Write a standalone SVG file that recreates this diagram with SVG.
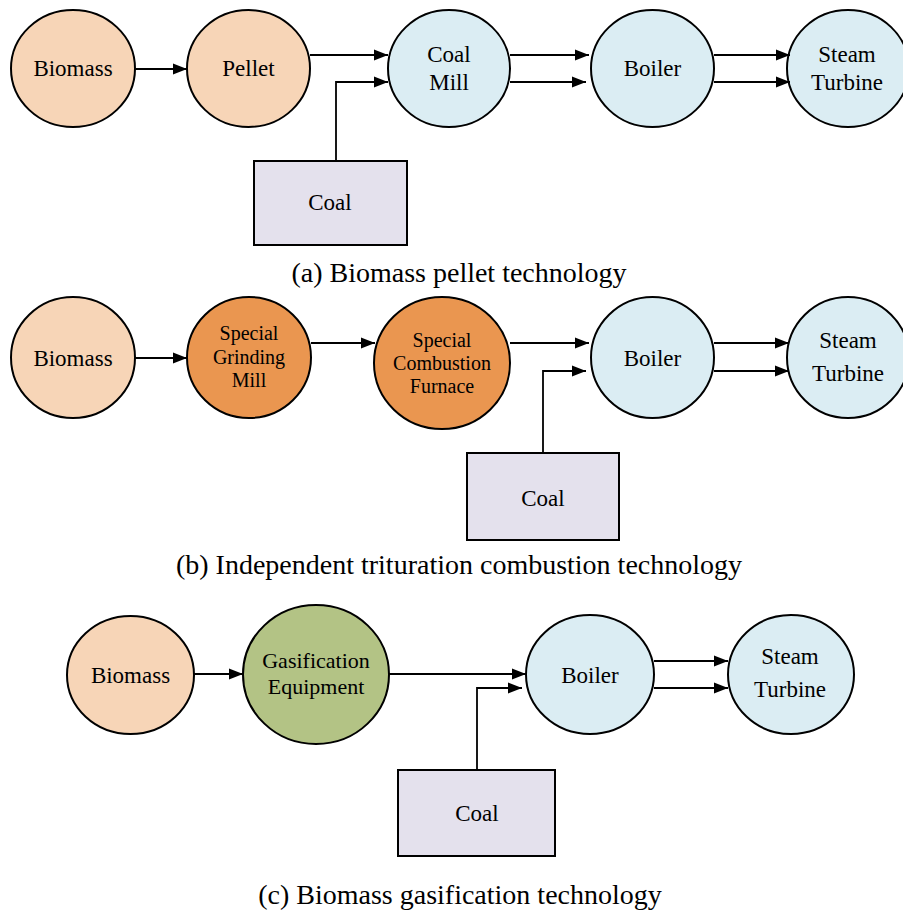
<svg xmlns="http://www.w3.org/2000/svg" width="903" height="915" viewBox="0 0 903 915">
<defs>
<marker id="ah" markerUnits="userSpaceOnUse" markerWidth="14" markerHeight="12" refX="14" refY="6" orient="auto">
<path d="M0,0.5 L14,6 L0,11.5 z" fill="#000"/>
</marker>
<style>
.n{stroke:#000;stroke-width:2}
.bio{fill:#F7D5B7}
.blue{fill:#DBEDF3}
.org{fill:#EA9650}
.grn{fill:#B3C385}
.coal{fill:#E4E1ED;stroke:#000;stroke-width:2}
text{font-family:"Liberation Serif","Times New Roman",serif;fill:#000;text-anchor:middle}
.t{font-size:23px}
.s{font-size:20px}
.g{font-size:22px}
.cap{font-size:28px}
.c{fill:none;stroke:#000;stroke-width:1.8;marker-end:url(#ah)}
</style>
</defs>
<rect width="903" height="915" fill="#fff"/>

<!-- Row a -->
<g id="a-biomass"><ellipse class="n bio" cx="73" cy="68.5" rx="62" ry="58.5"/><text class="t" x="73" y="76">Biomass</text></g>
<g id="a-pellet"><ellipse class="n bio" cx="248.5" cy="68.5" rx="61.5" ry="58.5"/><text class="t" x="248.5" y="76">Pellet</text></g>
<g id="a-coalmill"><ellipse class="n blue" cx="449" cy="68.5" rx="61" ry="58.5"/><text class="t" x="449" y="62">Coal</text><text class="t" x="449" y="90">Mill</text></g>
<g id="a-boiler"><ellipse class="n blue" cx="652.5" cy="68.5" rx="61.5" ry="58.5"/><text class="t" x="652.5" y="76">Boiler</text></g>
<g id="a-steam"><ellipse class="n blue" cx="848" cy="68.5" rx="61" ry="58.5"/><text class="t" x="847" y="62">Steam</text><text class="t" x="847" y="90">Turbine</text></g>
<g id="a-coal"><rect class="coal" x="254" y="161" width="153" height="84"/><text class="t" x="330" y="210">Coal</text></g>
<text class="cap" x="459" y="282">(a) Biomass pellet technology</text>

<!-- Row b -->
<g id="b-biomass"><ellipse class="n bio" cx="73" cy="357.5" rx="62" ry="60.5"/><text class="t" x="73" y="366">Biomass</text></g>
<g id="b-grinding"><ellipse class="n org" cx="249" cy="357.5" rx="62" ry="60.5"/><text class="s" x="249" y="340">Special</text><text class="s" x="249" y="364">Grinding</text><text class="s" x="249" y="387">Mill</text></g>
<g id="b-furnace"><ellipse class="n org" cx="442" cy="363" rx="68" ry="66"/><text class="s" x="442" y="347">Special</text><text class="s" x="442" y="370">Combustion</text><text class="s" x="442" y="393">Furnace</text></g>
<g id="b-boiler"><ellipse class="n blue" cx="652.5" cy="357.5" rx="61.5" ry="60.5"/><text class="t" x="652.5" y="366">Boiler</text></g>
<g id="b-steam"><ellipse class="n blue" cx="848" cy="357.5" rx="61" ry="60.5"/><text class="t" x="848" y="348">Steam</text><text class="t" x="848" y="381">Turbine</text></g>
<g id="b-coal"><rect class="coal" x="467" y="453" width="152" height="87"/><text class="t" x="543" y="506">Coal</text></g>
<text class="cap" x="459" y="574">(b) Independent trituration combustion technology</text>

<!-- Row c -->
<g id="c-biomass"><ellipse class="n bio" cx="130.5" cy="675" rx="63.5" ry="59"/><text class="t" x="130.5" y="683">Biomass</text></g>
<g id="c-gasif"><ellipse class="n grn" cx="316" cy="674.5" rx="73" ry="69.5"/><text class="g" x="316" y="668">Gasification</text><text class="g" x="316" y="694">Equipment</text></g>
<g id="c-boiler"><ellipse class="n blue" cx="590" cy="674.5" rx="64" ry="59.5"/><text class="t" x="590" y="683">Boiler</text></g>
<g id="c-steam"><ellipse class="n blue" cx="791" cy="674.5" rx="63" ry="59.5"/><text class="t" x="790" y="664">Steam</text><text class="t" x="790" y="697">Turbine</text></g>
<g id="c-coal"><rect class="coal" x="398" y="770" width="157" height="86"/><text class="t" x="477" y="821">Coal</text></g>
<text class="cap" x="460" y="904">(c) Biomass gasification technology</text>

<g id="connectors">
<path class="c" d="M135,69 H187"/>
<path class="c" d="M310,55 H388"/>
<path class="c" d="M336,161 V82 H388"/>
<path class="c" d="M510,55 H589"/>
<path class="c" d="M510,82 H586"/>
<path class="c" d="M714,55 H790"/>
<path class="c" d="M714,82 H790"/>

<path class="c" d="M135,358 H187"/>
<path class="c" d="M311,343 H375"/>
<path class="c" d="M510,343 H589"/>
<path class="c" d="M543,453 V371 H586"/>
<path class="c" d="M714,343 H789"/>
<path class="c" d="M714,371 H789"/>

<path class="c" d="M194,674 H243"/>
<path class="c" d="M389,674 H526"/>
<path class="c" d="M477,770 V688 H522"/>
<path class="c" d="M654,661 H728"/>
<path class="c" d="M654,688 H728"/>
</g>
</svg>
